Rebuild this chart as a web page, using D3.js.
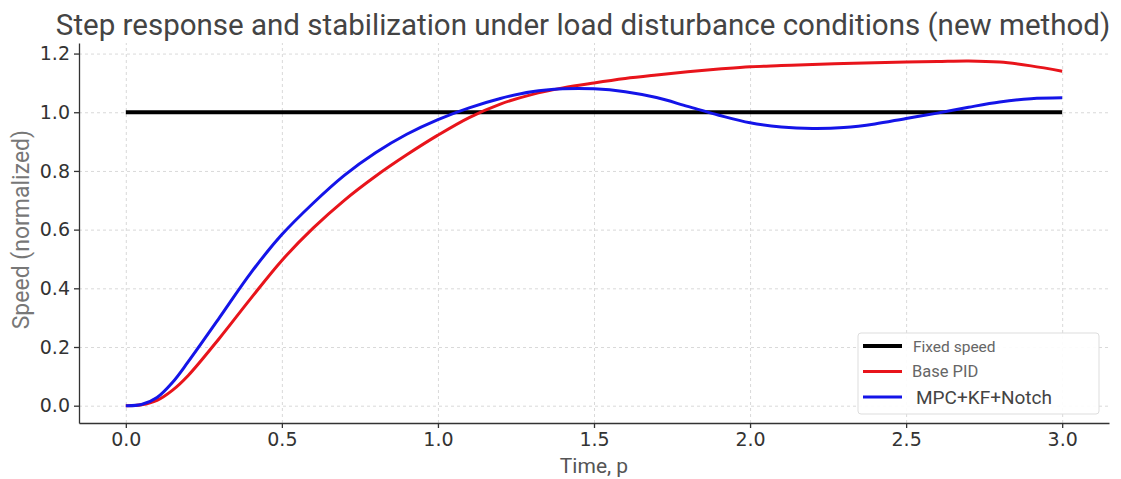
<!DOCTYPE html>
<meta charset="utf-8">
<script src="https://d3js.org/d3.v7.min.js"></script>
<style>
  body { margin: 0; background: white; }
  .grid line { stroke: #cfcfcf; stroke-dasharray: 3,3; stroke-width: 0.8px; }
  .grid path { display: none; }
  .axis text { font-family: "DejaVu Sans", sans-serif; font-size: 19px; fill: #333; }
  .axis path, .axis line { stroke: #333; stroke-width: 1.3px; }
</style>
<div id="chart"></div>
<script>
  // data
  var times = [0, 0.05, 0.1, 0.15, 0.2, 0.3, 0.4, 0.5, 0.6, 0.7, 0.8, 0.9, 1.0, 1.1, 1.2, 1.3, 1.4, 1.5,
               1.6, 1.7, 1.8, 1.9, 2.0, 2.1, 2.2, 2.3, 2.4, 2.5, 2.6, 2.7, 2.8, 2.9, 3.0];
  var basePid = [0, 0.003, 0.018, 0.053, 0.103, 0.23, 0.365, 0.495, 0.605, 0.70, 0.782, 0.855, 0.922, 0.982,
                 1.028, 1.06, 1.083, 1.10, 1.115, 1.127, 1.138, 1.147, 1.155, 1.159, 1.163, 1.166, 1.169,
                 1.171, 1.173, 1.175, 1.171, 1.158, 1.14];
  var mpcKf = [0, 0.004, 0.028, 0.08, 0.15, 0.30, 0.452, 0.583, 0.69, 0.785, 0.862, 0.925, 0.975, 1.015,
               1.047, 1.07, 1.08, 1.08, 1.07, 1.05, 1.02, 0.99, 0.964, 0.95, 0.945, 0.948, 0.96, 0.979,
               0.997, 1.017, 1.035, 1.046, 1.049];
  var fixedSpeed = 1.0;
  var xTicks = [0, 0.5, 1.0, 1.5, 2.0, 2.5, 3.0];
  var yTicks = [0, 0.2, 0.4, 0.6, 0.8, 1.0, 1.2];
  var seriesNames = ["Fixed speed", "Base PID", "MPC+KF+Notch"];
  var seriesColors = ["black", "#e8141b", "#1414e8"];

  var W = 1121, H = 479;
  var margin = {top: 43, right: 12, bottom: 56, left: 79},
      width = W - margin.left - margin.right,
      height = H - margin.top - margin.bottom;

  var svg = d3.select("#chart").append("svg")
      .attr("width", W).attr("height", H)
      .append("g")
      .attr("transform", "translate(" + margin.left + "," + margin.top + ")");

  var x = d3.scaleLinear().domain([-0.15, 3.15]).range([0, width]);
  var y = d3.scaleLinear().domain([-0.059, 1.236]).range([height, 0]);

  // grid
  svg.append("g").attr("class", "grid")
      .attr("transform", "translate(0," + height + ")")
      .call(d3.axisBottom(x).tickValues(xTicks).tickSize(-height).tickFormat(""));
  svg.append("g").attr("class", "grid")
      .call(d3.axisLeft(y).tickValues(yTicks).tickSize(-width).tickFormat(""));

  // axes
  svg.append("g").attr("class", "axis")
      .attr("transform", "translate(0," + height + ")")
      .call(d3.axisBottom(x).tickValues(xTicks).tickSize(5).tickSizeOuter(0).tickPadding(5).tickFormat(d3.format(".1f")));
  svg.append("g").attr("class", "axis")
      .call(d3.axisLeft(y).tickValues(yTicks).tickSize(5).tickSizeOuter(0).tickPadding(4).tickFormat(d3.format(".1f")));

  // lines
  var line = d3.line()
      .x(function (d) { return x(d[0]); })
      .y(function (d) { return y(d[1]); })
      .curve(d3.curveCatmullRom);

  var fixedData = times.map(function (t) { return [t, fixedSpeed]; });
  var pidData = times.map(function (t, i) { return [t, basePid[i]]; });
  var mpcData = times.map(function (t, i) { return [t, mpcKf[i]]; });

  svg.append("path").datum(fixedData).attr("d", line)
      .attr("fill", "none").attr("stroke", seriesColors[0]).attr("stroke-width", 4);
  svg.append("path").datum(pidData).attr("d", line)
      .attr("fill", "none").attr("stroke", seriesColors[1]).attr("stroke-width", 3);
  svg.append("path").datum(mpcData).attr("d", line)
      .attr("fill", "none").attr("stroke", seriesColors[2]).attr("stroke-width", 3);

  // title and labels
  svg.append("text")
      .attr("x", 583 - margin.left).attr("y", 35 - margin.top)
      .attr("text-anchor", "middle")
      .style("font-family", "Roboto, sans-serif").style("font-size", "29.5px").style("fill", "#444")
      .text("Step response and stabilization under load disturbance conditions (new method)");

  svg.append("text")
      .attr("x", x(1.5)).attr("y", 473 - margin.top)
      .attr("text-anchor", "middle")
      .style("font-family", "Roboto, sans-serif").style("font-size", "21px").style("fill", "#555")
      .text("Time, p");

  svg.append("text")
      .attr("transform", "rotate(-90)")
      .attr("x", -y(0.6)).attr("y", 29 - margin.left)
      .attr("text-anchor", "middle")
      .style("font-family", "Roboto, sans-serif").style("font-size", "23px").style("fill", "#777")
      .text("Speed (normalized)");

  // legend
  var legend = svg.append("g").attr("transform", "translate(" + (858 - margin.left) + "," + (333 - margin.top) + ")");
  legend.append("rect")
      .attr("width", 241).attr("height", 81).attr("rx", 3)
      .attr("fill", "white").attr("fill-opacity", 0.9)
      .attr("stroke", "#ddd");
  var legendSizes = [15.5, 16.5, 19];
  var legendX = [55, 54, 58];
  legend.selectAll(".entry")
      .data(seriesNames)
      .enter().append("g")
      .attr("transform", function (d, i) { return "translate(0," + (13 + i * 25.5) + ")"; })
      .each(function (d, i) {
        var g = d3.select(this);
        g.append("line").attr("x1", 5).attr("x2", 44).attr("y1", 0).attr("y2", 0)
            .attr("stroke", seriesColors[i]).attr("stroke-width", i === 0 ? 4 : 3);
        g.append("text").attr("x", legendX[i]).attr("y", i === 2 ? 7 : 5.5)
            .style("font-family", "Roboto, sans-serif").style("font-size", legendSizes[i] + "px")
            .style("fill", i === 2 ? "#444" : "#666")
            .text(d);
      });
</script>
